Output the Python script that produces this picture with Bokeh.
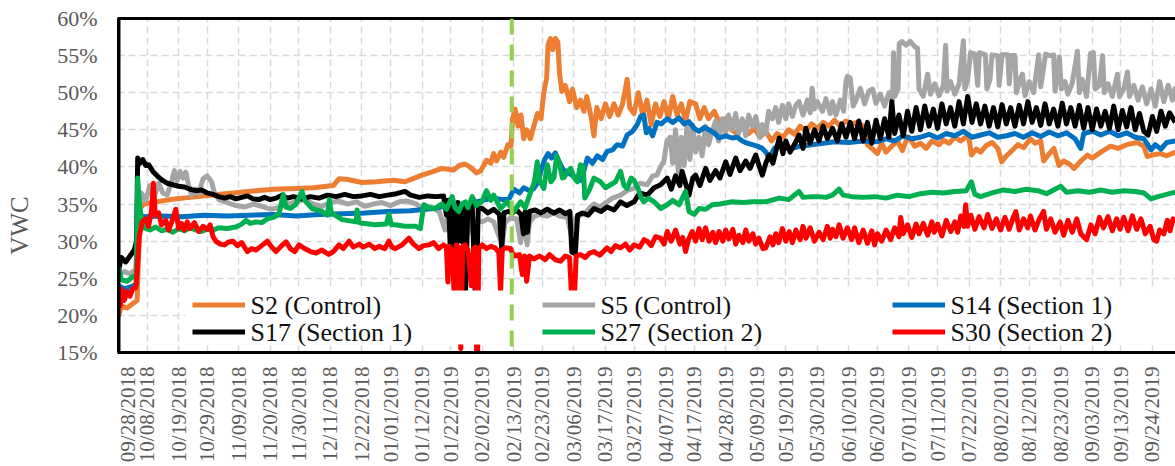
from datetime import datetime, timedelta
from math import pi

from bokeh.embed import file_html
from bokeh.layouts import column, row
from bokeh.models import (BoxAnnotation, ColumnDataSource, FixedTicker, Label, Legend, LegendItem,
                          LinearAxis, Range1d, Span)
from bokeh.plotting import figure
from bokeh.resources import INLINE

# Soil volumetric water content (VWC, %) per sensor.
# Each series is a list of (days since 09/28/2018, VWC %).
START = datetime(2018, 9, 28)
TREATMENT_DAY = 137.3  # vertical marker

tick_labels = [
    "09/28/2018", "10/08/2018", "10/19/2018", "10/29/2018", "11/09/2018", "11/20/2018",
    "11/30/2018", "12/11/2018", "12/22/2018", "01/01/2019", "01/12/2019", "01/22/2019",
    "02/02/2019", "02/13/2019", "02/23/2019", "03/06/2019", "03/17/2019", "03/27/2019",
    "04/07/2019", "04/17/2019", "04/28/2019", "05/09/2019", "05/19/2019", "05/30/2019",
    "06/10/2019", "06/20/2019", "07/01/2019", "07/11/2019", "07/22/2019", "08/02/2019",
    "08/12/2019", "08/23/2019", "09/03/2019", "09/13/2019", "09/24/2019",
]
y_ticks = [15, 20, 25, 30, 35, 40, 45, 50, 55, 60]

s2_control = [
    (0, 19.8), (1, 21.3), (3, 21.0), (5, 21.6), (6.5, 22.0), (7.5, 34.5), (9, 35.0), (12, 35.2),
    (18, 35.6), (25, 35.9), (32, 36.2), (40, 36.5), (48, 36.8), (54, 37.0), (62, 37.1), (68, 37.2),
    (75, 37.5), (77, 38.4), (80, 38.3), (85, 37.9), (90, 38.0), (96, 38.2), (100, 38.0), (106, 38.9),
    (110, 39.4), (113, 39.8), (117, 39.6), (119, 40.2), (121, 40.4), (123, 39.9), (125, 39.2),
    (126.5, 39.5), (128.5, 40.9), (130, 40.5), (131, 41.8), (132, 40.8), (133.5, 42.0), (134.5, 41.3),
    (136, 43.0), (137, 42.8), (137.6, 46.5), (138.5, 47.8), (139.5, 45.5), (140.5, 47.0),
    (141.5, 43.8), (142.5, 45.0), (143.8, 43.8), (145, 45.5), (146.3, 47.2), (147.5, 46.5),
    (148.5, 50.0), (149.5, 52.0), (150, 56.5), (150.8, 57.3), (151.6, 55.8), (152.5, 57.3),
    (153.4, 56.8), (154, 52.5), (154.8, 50.2), (156, 51.0), (157.5, 48.8), (158.5, 50.5), (160, 48.0),
    (161.3, 49.0), (162.5, 47.5), (163.5, 49.5), (165, 46.8), (166, 44.2), (167, 48.0), (168.5, 46.5),
    (170, 48.5), (171.5, 46.8), (173, 48.5), (174.5, 47.0), (176, 48.5), (177.6, 51.8), (178.5, 48.0),
    (180, 47.2), (181.5, 50.0), (183, 47.0), (184.5, 49.0), (186, 45.7), (187.5, 48.5), (189, 46.8),
    (190.5, 48.8), (192, 46.5), (193.5, 49.5), (195, 47.0), (196.5, 48.5), (198, 46.2), (199.5, 48.8),
    (201.5, 48.5), (203, 46.5), (204.5, 48.0), (206, 46.5), (208, 47.5), (210, 45.8), (212, 46.5),
    (214, 45.0), (216, 44.5), (218, 45.8), (220, 44.5), (222, 45.2), (224, 44.0), (226, 44.8),
    (228, 43.5), (230, 44.5), (232, 44.0), (234, 45.0), (236, 44.4), (238, 45.5), (240, 44.8),
    (242, 45.8), (244, 45.2), (246, 46.0), (248, 45.5), (250, 46.3), (252, 45.5), (254, 46.2),
    (256, 45.8), (258, 46.0), (260, 45.5), (261.5, 43.0), (263, 42.5), (265, 41.8), (266.5, 43.2),
    (268, 42.0), (270, 42.8), (272, 43.5), (273.7, 42.2), (275, 43.5), (276, 44.0), (278, 42.8),
    (280, 43.2), (282, 42.5), (284, 43.5), (286.5, 43.0), (288, 43.6), (290, 43.2), (292, 44.0),
    (294, 43.5), (296.8, 44.3), (297.8, 41.6), (299.5, 42.4), (301, 42.0), (303, 42.9), (305, 43.3),
    (307, 42.5), (308.4, 40.7), (310, 41.5), (312, 42.2), (314, 43.0), (316, 42.6), (318.4, 43.8),
    (320, 43.2), (322, 43.5), (323, 40.8), (325, 41.8), (326.6, 42.5), (328.4, 40.2), (330, 40.8),
    (332, 40.4), (333.6, 39.8), (336, 40.8), (338.3, 41.6), (340, 41.2), (343, 42.0), (346.4, 42.8),
    (349, 42.5), (352, 43.0), (355.7, 43.3), (358, 42.8), (359.2, 41.4), (361, 41.6), (363.8, 41.8),
    (366, 41.5), (369, 42.0),
]

s5_control = [
    (0, 25.5), (2, 25.9), (4, 25.6), (6, 26.2), (7, 33.5), (8, 36.5), (9.5, 35.5), (11, 37.5),
    (12.5, 36.0), (14, 37.8), (15.5, 36.5), (17, 36.2), (18.5, 38.0), (19.5, 39.5), (20.5, 38.2),
    (21.5, 39.4), (22.5, 38.5), (23.5, 39.3), (24.5, 37.5), (25.5, 36.2), (27, 37.0), (28, 36.4),
    (29.5, 38.4), (31, 38.8), (32.5, 38.0), (33.5, 36.5), (35, 35.6), (38, 35.2), (41, 34.8),
    (44, 34.6), (47, 35.0), (50, 34.7), (53, 34.3), (56, 34.5), (59, 35.0), (62, 35.3), (65, 35.6),
    (68, 35.0), (71, 34.7), (74, 35.2), (77, 35.4), (80, 35.0), (83, 35.3), (86, 34.7), (89, 35.0),
    (92, 35.2), (95, 34.8), (98, 35.3), (101, 35.4), (104, 35.0), (106, 34.4), (109, 34.6),
    (112, 34.0), (114, 31.5), (115, 33.8), (116, 31.2), (117, 33.5), (119, 33.3), (120.6, 33.0),
    (122, 31.0), (123, 33.0), (125, 32.8), (127, 32.6), (129, 33.0), (131, 32.6), (133, 30.5),
    (134, 29.7), (135, 32.5), (137, 33.2), (139, 33.0), (140.4, 29.8), (141.2, 33.0), (142.7, 29.5),
    (143.5, 32.5), (145, 33.3), (147, 33.6), (149.7, 33.4), (152, 33.8), (154, 33.4), (156.7, 33.2),
    (158, 31.0), (159.5, 33.0), (161.3, 33.5), (163, 33.8), (164.5, 34.5), (166, 35.0), (168, 34.6),
    (170.6, 35.3), (172.5, 35.8), (175.3, 36.2), (177.5, 36.8), (180, 37.1), (182, 37.8),
    (184.6, 37.6), (186.5, 38.8), (188, 38.9), (189.5, 40.2), (190.4, 40.7), (191.5, 43.5),
    (192.7, 44.0), (193.5, 40.5), (194.5, 45.0), (195.5, 38.8), (196.5, 44.0), (197.5, 40.2),
    (198.5, 45.5), (199.5, 41.0), (200.5, 45.7), (201.5, 42.0), (202.7, 44.0), (203.8, 41.5),
    (205, 45.5), (206, 43.0), (207.3, 44.8), (208.5, 46.2), (209.5, 43.5), (210.8, 46.5), (212, 44.5),
    (213, 47.0), (214.3, 45.0), (215.5, 47.2), (216.5, 44.5), (217.8, 46.5), (219, 44.2), (220, 47.0),
    (221.3, 45.5), (222.5, 46.8), (224, 44.0), (224.8, 45.7), (226, 44.5), (227, 47.5), (228.3, 46.5),
    (229.5, 48.0), (230.5, 46.0), (231.8, 48.3), (233, 46.5), (234, 48.5), (235.3, 46.8),
    (236.5, 48.3), (237.6, 48.8), (239, 47.0), (240.5, 49.0), (241.5, 47.3), (242.2, 50.6),
    (242.9, 47.8), (244, 48.8), (245.8, 47.5), (247, 49.2), (248.5, 47.2), (249.3, 48.8), (250.5, 47.0),
    (252, 49.0), (253.2, 47.5), (254, 51.5), (254.5, 52.2), (255.5, 52.0), (256.5, 48.2),
    (257.5, 49.0), (259, 50.6), (260.5, 48.5), (262, 50.2), (263.3, 50.5), (264.5, 48.6), (266, 49.8),
    (267.5, 48.2), (269, 50.0), (270.3, 49.0), (270.6, 55.4), (271, 49.5), (272.2, 50.5),
    (272.6, 56.6), (273.5, 56.9), (275, 56.4), (276.5, 56.9), (278, 56.2), (279, 56.0), (279.5, 50.5),
    (281, 49.5), (282.5, 52.5), (283.5, 49.8), (285, 51.2), (286.5, 49.6), (288, 51.0), (288.8, 56.4),
    (289.3, 50.2), (290.5, 51.5), (292, 49.8), (293.5, 51.2), (295, 57.0), (295.5, 50.5),
    (296.5, 51.8), (297.5, 55.4), (299, 55.2), (300, 51.0), (300.6, 55.4), (302.7, 55.1),
    (303.2, 50.5), (304.3, 51.8), (305, 55.1), (307, 55.0), (307.5, 51.0), (308.5, 55.1),
    (310.5, 55.1), (311, 51.2), (311.8, 55.0), (313, 55.0), (313.5, 50.0), (315, 52.0), (315.6, 52.5),
    (316.5, 49.6), (318, 51.5), (319.5, 50.0), (321.3, 55.1), (322, 50.8), (323.7, 55.2), (325, 55.0),
    (326.5, 55.1), (327, 50.2), (328.5, 54.8), (329.2, 50.5), (330.5, 51.5), (331.5, 49.8),
    (333, 51.3), (334.8, 55.6), (335.5, 50.0), (336.5, 51.8), (338, 49.5), (339.4, 55.3),
    (340.4, 55.4), (341, 50.5), (342.5, 51.0), (343.6, 55.0), (344.2, 50.0), (345.5, 51.2),
    (347, 49.5), (348.8, 52.5), (349.5, 49.5), (351, 50.5), (352.3, 52.8), (353, 49.5), (354.5, 51.0),
    (356, 49.0), (357.5, 50.8), (359, 48.5), (360.5, 50.5), (362, 48.2), (363.5, 51.5), (365, 48.8),
    (366.5, 51.0), (368, 49.0), (369, 50.8),
]

s14_section1 = [
    (0, 24.0), (2, 23.6), (4, 23.8), (6.3, 24.2), (7, 33.5), (9, 33.3), (15, 33.4), (22, 33.3),
    (30, 33.5), (38, 33.4), (46, 33.5), (54, 33.6), (62, 33.4), (70, 33.6), (78, 33.7), (86, 33.8),
    (94, 34.0), (102, 34.1), (110, 34.4), (116, 34.9), (122, 35.0), (127, 35.5), (131, 35.8),
    (134.3, 35.6), (136.5, 35.8), (138, 37.0), (140, 36.5), (141.5, 37.2), (143.5, 36.8), (145, 37.1),
    (146.5, 38.0), (147.5, 39.5), (148.8, 41.0), (150, 41.8), (151.2, 41.2), (152.5, 41.9),
    (153.5, 41.0), (155, 39.8), (156.5, 39.2), (158, 39.0), (159.5, 38.6), (161.3, 38.2),
    (162.5, 39.5), (163.7, 41.2), (165.5, 40.5), (167.2, 41.5), (169, 41.0), (170.6, 42.1),
    (172.5, 42.3), (174.1, 43.0), (176, 42.8), (177.6, 44.3), (179.5, 44.8), (181.1, 45.7),
    (182.3, 46.8), (183.4, 47.0), (184.3, 44.6), (185.2, 45.2), (186.5, 44.2), (188, 46.0),
    (189.5, 45.8), (191.6, 46.5), (193.5, 46.0), (195.7, 46.6), (197.5, 45.8), (199.2, 46.1),
    (201, 45.2), (202.7, 44.8), (204.5, 45.3), (206.2, 45.0), (208, 44.6), (209.7, 43.9), (212, 44.2),
    (214.3, 43.9), (216, 44.0), (217.8, 43.5), (219.5, 43.2), (221.3, 43.0), (223, 42.8),
    (224.8, 42.5), (226, 42.0), (227.2, 41.2), (229, 42.5), (230.7, 43.0), (233, 42.6), (235.3, 42.5),
    (238, 42.8), (242, 43.0), (246, 43.2), (250, 43.4), (255, 43.3), (260, 43.5), (265, 43.4),
    (268, 43.8), (271, 43.5), (274, 44.2), (277, 43.8), (280, 44.0), (283, 44.4), (286, 43.9),
    (289, 44.5), (292, 44.2), (295, 44.8), (298, 44.0), (301, 44.3), (304, 44.6), (307, 44.0),
    (310, 44.2), (313, 44.5), (316, 44.0), (319, 44.6), (322, 44.1), (325, 44.7), (328, 44.2),
    (331, 44.6), (334, 43.8), (336, 42.5), (337, 44.5), (340, 44.8), (343, 44.3), (346, 44.8),
    (349, 44.2), (352, 44.6), (355, 44.0), (358, 43.8), (360.5, 42.3), (362, 43.0), (364, 42.4),
    (366, 43.3), (369, 43.5),
]

s17_section1 = [
    (0, 26.0), (1, 27.8), (2.5, 27.2), (4, 28.0), (5.5, 28.8), (6.3, 30.0), (6.7, 41.2), (7.5, 40.5),
    (8.5, 41.0), (9.5, 40.2), (10.5, 40.3), (12, 39.4), (13.5, 38.8), (15, 38.3), (17, 37.8),
    (19, 37.6), (21, 37.4), (23, 37.3), (25, 37.0), (27, 36.8), (29, 36.9), (31, 36.5), (33, 36.3),
    (35, 36.0), (37, 35.8), (39, 36.0), (41, 35.7), (43, 35.9), (45, 36.1), (47, 35.7), (49, 35.6),
    (51, 35.9), (53, 35.6), (55, 35.8), (57, 36.2), (59, 35.8), (61, 36.0), (64, 35.7), (67, 36.0),
    (70, 35.8), (73, 36.2), (76, 36.0), (79, 36.3), (82, 36.0), (85, 36.1), (88, 36.3), (91, 36.0),
    (94, 36.2), (97, 36.4), (100, 36.7), (102, 36.2), (105, 35.9), (108, 36.1), (111, 36.0),
    (113.5, 36.1), (114.5, 33.5), (115.2, 35.5), (115.8, 29.5), (116.5, 35.0), (117.5, 24.0),
    (118.5, 35.2), (119.5, 30.0), (120.2, 35.0), (121.2, 23.5), (122, 35.0), (123.5, 34.8),
    (124.8, 20.0), (125.6, 34.5), (127, 34.4), (129, 33.8), (131, 34.3), (133, 33.6), (133.8, 29.0),
    (134.6, 33.8), (136, 34.0), (137.5, 33.8), (139, 34.2), (140.5, 33.6), (141.4, 31.0), (142, 34.0),
    (142.8, 31.2), (143.5, 34.0), (145.5, 34.2), (147.5, 33.8), (149.7, 34.3), (152, 33.8),
    (154, 34.2), (156, 33.7), (157.6, 34.0), (158.3, 28.5), (159.5, 28.3), (160.3, 33.5), (162, 33.8),
    (164, 33.5), (166, 34.4), (168.5, 34.0), (170.6, 34.6), (173, 34.2), (175.3, 35.3), (177.5, 34.8),
    (180, 35.3), (182, 36.5), (184.6, 36.2), (187, 37.2), (189.3, 37.6), (191.6, 38.5), (193, 37.0),
    (194.5, 38.8), (196, 37.5), (196.8, 39.4), (198, 37.8), (199.2, 36.2), (200.5, 38.5),
    (201.5, 38.9), (203, 37.5), (205, 39.8), (206.5, 38.2), (208.5, 39.5), (210, 38.5), (212, 40.7),
    (213.5, 39.0), (215.5, 41.2), (217, 39.5), (219, 40.8), (220.5, 39.8), (222.5, 41.6),
    (223.8, 40.0), (224.8, 38.9), (226, 40.5), (227.2, 41.6), (228.5, 40.5), (230.7, 43.9),
    (232, 41.8), (233, 43.5), (234.5, 42.0), (236.5, 43.4), (237.6, 44.3), (239, 42.5), (240, 45.2),
    (241.5, 43.2), (243, 45.0), (244.6, 43.5), (246, 45.5), (247.5, 43.8), (249.3, 45.2), (251, 43.5),
    (252.5, 45.8), (254, 44.0), (255.5, 46.0), (257, 43.8), (258.5, 46.2), (260, 43.5), (261.5, 46.0),
    (263, 43.2), (264.5, 46.3), (266, 43.8), (267.5, 46.5), (269, 44.0), (270, 48.8), (271, 44.5),
    (272.5, 47.0), (274, 44.2), (275.5, 47.5), (277, 44.8), (278.5, 48.0), (280, 45.0), (281.5, 48.2),
    (283, 45.5), (284.5, 47.8), (286, 45.2), (287.5, 48.5), (289, 45.8), (290.5, 48.0), (292, 45.5),
    (293.5, 48.8), (295, 45.8), (296.5, 49.5), (298, 46.0), (299.5, 48.5), (301, 45.8), (302.5, 48.2),
    (304, 45.5), (305.5, 48.0), (307, 45.4), (308.5, 48.4), (310, 45.8), (311.5, 48.0), (313, 45.5),
    (314.5, 48.3), (316, 45.8), (317.5, 48.8), (319, 46.0), (320.5, 48.0), (322, 45.6), (323.5, 48.5),
    (325, 45.8), (326.5, 47.8), (328, 45.5), (329.5, 48.6), (331, 45.8), (332.5, 48.0), (334, 45.5),
    (335.5, 48.3), (337, 45.2), (338.5, 48.0), (340, 45.0), (341.5, 47.8), (343, 45.5), (344.5, 47.5),
    (346, 45.2), (347.5, 48.2), (349, 45.0), (350.5, 47.6), (352, 45.4), (353.5, 48.0), (355, 45.0),
    (356.5, 47.2), (358, 44.8), (359.5, 44.3), (361, 46.8), (362.5, 44.8), (364, 47.5), (365.5, 45.5),
    (367, 47.3), (369, 46.0),
]

s27_section2 = [
    (0, 26.5), (1, 24.8), (3, 24.6), (5, 25.2), (6.2, 25.5), (6.7, 38.5), (7.3, 35.0), (8, 33.0),
    (9, 31.8), (11, 31.5), (13, 31.9), (15, 31.4), (17, 31.6), (19, 31.2), (21, 31.7), (23, 31.4),
    (25, 31.8), (27, 31.5), (29, 31.3), (31, 31.6), (33, 31.5), (35, 31.8), (38, 31.7), (41, 31.9),
    (43, 32.3), (44.5, 32.8), (46, 32.4), (48, 32.6), (50, 32.5), (52, 33.0), (54, 33.2), (56, 33.6),
    (57.5, 36.3), (58.5, 34.6), (60, 34.4), (61.8, 34.9), (64.1, 36.7), (65, 35.5), (67.6, 34.4),
    (71.1, 34.0), (73, 33.5), (73.6, 35.6), (74.3, 33.8), (78.1, 32.9), (83, 32.6), (83.3, 34.2),
    (84, 32.5), (85.1, 32.4), (89.7, 32.2), (93.5, 32.3), (94.4, 33.6), (95.3, 32.2), (96.7, 32.2),
    (100, 32.0), (103.7, 32.0), (105.4, 31.7), (106.6, 34.9), (108.5, 34.5), (110.7, 34.4),
    (112, 34.8), (113, 35.0), (114.5, 34.3), (116.5, 36.0), (117.5, 34.5), (118.8, 34.0), (120, 35.0),
    (121.1, 35.3), (122, 34.5), (123.5, 36.0), (125, 34.8), (127, 35.4), (128.5, 36.8), (130, 35.5),
    (131, 36.2), (133.4, 34.4), (135.7, 35.3), (138, 34.0), (140.4, 35.3), (142, 34.5), (143.9, 36.6),
    (145.2, 38.0), (146.2, 40.7), (147, 38.2), (148.5, 37.1), (149.7, 40.3), (151, 38.0), (152, 38.5),
    (153, 41.5), (153.8, 40.7), (155, 38.5), (155.6, 38.6), (157, 39.5), (157.9, 39.8), (159, 38.6),
    (160.2, 38.0), (161.3, 40.3), (162.3, 40.0), (162.8, 35.8), (164.5, 37.0), (166, 38.5),
    (168.3, 38.0), (170, 37.2), (171.8, 37.6), (173.5, 38.0), (175.3, 39.4), (176.5, 37.5),
    (177.6, 37.1), (179, 38.5), (180, 38.2), (181.5, 37.0), (182.3, 36.0), (183.4, 35.3), (185, 35.8),
    (187, 35.3), (189.3, 34.4), (191.6, 34.9), (193.5, 35.5), (195.7, 34.9), (198, 36.7),
    (199.2, 34.0), (201, 33.6), (202.7, 34.4), (205, 34.3), (207.3, 34.9), (210, 35.0), (214.3, 35.3),
    (218, 35.2), (221.3, 35.3), (226, 35.3), (230.7, 35.8), (234, 35.6), (237.6, 36.7), (239, 35.9),
    (242, 36.0), (244.6, 36.0), (247, 35.9), (249.3, 36.2), (251.6, 37.0), (253, 36.2), (256, 36.0),
    (260, 35.9), (264, 36.0), (268, 35.8), (272, 36.2), (276, 36.0), (280, 36.4), (284, 36.6),
    (288, 36.5), (292, 36.7), (296, 36.8), (297.8, 38.0), (299, 36.3), (301, 36.0), (305, 36.5),
    (309, 36.9), (313, 36.7), (317, 37.0), (321, 36.8), (324, 36.4), (329, 37.4), (331, 36.6),
    (335, 36.8), (339, 36.6), (343, 36.9), (347, 36.6), (351, 36.8), (355, 36.7), (358, 36.5),
    (360.5, 35.7), (363, 36.0), (366, 36.3), (369, 36.6),
]

s30_section2 = [
    (0, 22.8), (0.6, 21.3), (1.2, 23.5), (2, 22.0), (3, 23.2), (4, 22.6), (5, 23.6), (6, 23.7),
    (6.5, 26.0), (7.3, 30.7), (8.3, 32.6), (9.5, 33.0), (10.5, 32.0), (11.5, 34.0), (12.2, 37.8),
    (12.8, 33.5), (14, 33.8), (15, 32.2), (16.5, 32.8), (17.5, 31.5), (18.5, 32.5), (20, 34.3),
    (21, 31.7), (22, 32.4), (23, 31.5), (24, 32.6), (25, 31.7), (26.5, 32.5), (28, 31.3), (29.5, 32.0),
    (31, 31.6), (32, 32.2), (33, 30.6), (34, 30.0), (35.5, 29.6), (37, 29.5), (38.5, 29.9), (40, 30.0),
    (41.5, 29.4), (43, 29.8), (45, 28.6), (46.5, 29.0), (48, 28.8), (50, 29.4), (52, 30.0),
    (53.5, 29.2), (55, 28.6), (57, 29.4), (58.5, 29.9), (60, 29.0), (61.5, 28.6), (63, 29.5),
    (65, 29.0), (67, 28.6), (69, 28.4), (71, 28.8), (73.4, 28.2), (75, 28.6), (77, 29.5), (78.5, 29.0),
    (80.5, 30.0), (82, 29.2), (84, 29.6), (85.5, 29.2), (87.5, 29.6), (89.5, 29.0), (91, 29.3),
    (93, 29.0), (94.4, 30.0), (95.5, 29.2), (96.7, 29.0), (99, 29.5), (101.4, 30.4), (103, 29.6),
    (104.9, 29.0), (106.5, 29.4), (108.4, 29.5), (110, 29.8), (111.8, 29.0), (113.5, 29.5),
    (114.5, 29.2), (115, 24.5), (115.5, 29.3), (116.5, 28.8), (117.3, 22.0), (118, 29.5),
    (119, 29.0), (119.5, 15.5), (120.2, 29.3), (121, 29.5), (122, 28.8), (123.2, 24.0), (124, 29.0),
    (124.6, 29.2), (125.2, 9.0), (125.8, 29.0), (127, 29.5), (128.5, 29.0), (130, 29.3),
    (131.5, 29.1), (132.8, 28.5), (133.4, 23.2), (134, 28.8), (135, 29.1), (136.9, 29.0),
    (137.5, 28.4), (138.5, 28.0), (140, 28.2), (141, 25.5), (141.8, 28.0), (142.5, 24.6),
    (143.5, 28.0), (145, 27.6), (147, 28.0), (149, 27.5), (150.5, 28.2), (152.5, 27.5), (154.4, 27.3),
    (156, 28.0), (157.5, 27.8), (158.2, 22.5), (159.2, 22.5), (159.8, 28.0), (161.3, 28.2),
    (163, 27.8), (164.5, 28.4), (166, 28.6), (168, 28.1), (170.6, 29.1), (172, 28.6), (173.5, 29.4),
    (175.3, 29.1), (177, 29.6), (178.5, 28.8), (180, 29.5), (182, 29.2), (183.5, 30.2), (184.6, 30.0),
    (186, 29.4), (187.5, 30.6), (189.3, 30.4), (190.5, 29.6), (191.6, 31.3), (193, 30.0),
    (194.5, 31.5), (196, 29.6), (197, 30.5), (198, 28.6), (199, 30.2), (200.3, 31.3), (201.5, 30.0),
    (202.7, 31.7), (203.8, 30.2), (205, 31.8), (206.2, 30.0), (207.5, 31.2), (208.5, 29.8),
    (209.7, 31.3), (211, 30.0), (212, 31.5), (213.1, 30.3), (214.5, 31.6), (215.5, 29.6),
    (216.6, 30.8), (218, 29.8), (219, 31.5), (220.1, 30.0), (221.5, 31.0), (222.5, 29.6),
    (223.6, 30.4), (225, 29.0), (226, 29.1), (227.5, 30.6), (228.5, 29.5), (229.5, 31.0),
    (230.5, 29.8), (231.8, 31.7), (233, 30.0), (234.2, 31.3), (235.3, 29.8), (236.5, 31.5),
    (238, 30.2), (239, 32.0), (240, 30.4), (241.5, 31.8), (243, 30.0), (244.6, 31.2), (246, 30.2),
    (247.5, 32.0), (248.5, 30.4), (249.3, 31.6), (250.5, 30.6), (251.6, 32.2), (253, 30.4),
    (254.5, 31.8), (256, 30.2), (257, 31.8), (258.5, 29.8), (260, 31.5), (261.5, 29.7), (263, 31.4),
    (264, 29.5), (265, 31.0), (266.5, 30.0), (268, 31.5), (269.6, 30.2), (271, 31.8), (272.5, 30.6),
    (273.1, 33.2), (274, 31.0), (275.5, 32.2), (277, 30.5), (278.5, 32.3), (279.5, 31.0), (281, 32.4),
    (282.5, 30.8), (284, 32.6), (284.8, 31.2), (286, 32.3), (287.5, 30.7), (289, 32.8), (290.6, 31.3),
    (292, 32.6), (293, 31.2), (294.1, 33.4), (295.2, 32.0), (295.8, 34.9), (296.5, 32.0),
    (297.6, 33.5), (299, 31.6), (300.5, 33.3), (302.2, 31.8), (303.5, 33.6), (305, 31.7),
    (306.5, 33.0), (308, 31.5), (309.5, 33.2), (311, 31.6), (312.5, 33.3), (313.3, 34.0),
    (314.5, 31.5), (316, 33.0), (317.5, 31.8), (318.4, 33.4), (320, 31.5), (321.5, 33.0), (323, 34.0),
    (324, 31.6), (325.5, 33.0), (327, 31.2), (328.8, 32.6), (330, 30.8), (331.5, 32.8), (333, 31.2),
    (334.6, 33.0), (336, 31.0), (337.2, 30.5), (338, 30.2), (339.5, 32.2), (341, 31.0), (342.5, 33.2),
    (343.9, 31.8), (345.5, 33.3), (347, 31.4), (348.5, 33.0), (349.7, 31.6), (351, 33.2),
    (352.5, 31.4), (354, 33.4), (355.5, 31.6), (357, 33.0), (358.5, 31.0), (360.2, 32.0),
    (361.5, 30.2), (362.5, 30.0), (363.5, 31.5), (365, 31.0), (366.2, 32.8), (367.2, 31.4),
    (368.2, 33.0), (369, 32.5),
]

series = [
    ("S2 (Control)", s2_control, "#ED7D31"),
    ("S5 (Control)", s5_control, "#A5A5A5"),
    ("S14 (Section 1)", s14_section1, "#0070C0"),
    ("S17 (Section 1)", s17_section1, "#000000"),
    ("S27 (Section 2)", s27_section2, "#00B050"),
    ("S30 (Section 2)", s30_section2, "#FF0000"),
]

EPOCH = datetime(1970, 1, 1)
FONT = "Liberation Serif"
TICK_COLOR = "#595959"

# plot-area geometry (pixels) and the visible data window
LEFT_W, PLOT_W = 117, 1058
TOP, PLOT_H, BOTTOM_H = 18, 334, 112
X0, X1 = -0.35, 369.06          # days
Y0, Y1 = 15, 60                 # VWC %
PX_PER_PCT = PLOT_H / (Y1 - Y0)


def day_to_dt(d):
    return START + timedelta(days=d)


def to_ms(dt):
    return (dt - EPOCH).total_seconds() * 1000.0


tick_ms = [to_ms(datetime.strptime(t, "%m/%d/%Y")) for t in tick_labels]

# ---------------- main plot ----------------
main = figure(
    width=PLOT_W, height=TOP + PLOT_H + 2, x_axis_type="datetime",
    x_range=Range1d(day_to_dt(X0), day_to_dt(X1)), y_range=Range1d(Y0, Y1),
    output_backend="svg", toolbar_location=None,
    min_border_left=0, min_border_right=0, min_border_top=TOP, min_border_bottom=2,
)
main.outline_line_color = None
main.background_fill_color = "white"
main.border_fill_color = "white"

for ax in (main.xaxis[0], main.yaxis[0]):
    ax.ticker = FixedTicker(ticks=[])
    ax.axis_line_color = "black"
    ax.major_tick_out = 0
    ax.major_tick_in = 0
    ax.minor_tick_out = 0
    ax.minor_tick_in = 0
    ax.major_label_standoff = 0
main.xaxis[0].axis_line_width = 3
main.yaxis[0].axis_line_width = 6   # half of it lies at the canvas edge

top = LinearAxis(ticker=FixedTicker(ticks=[]), axis_line_width=3, axis_line_color="black",
                 major_tick_out=0, major_tick_in=0, minor_tick_out=0, minor_tick_in=0,
                 major_label_standoff=0)
main.add_layout(top, "above")

main.xgrid[0].ticker = FixedTicker(ticks=tick_ms)
main.ygrid[0].ticker = FixedTicker(ticks=y_ticks)
for g in (main.xgrid[0], main.ygrid[0]):
    g.grid_line_color = "#D9D9D9"
    g.grid_line_width = 1.5
    g.grid_line_dash = "7 4"

renderers = []
for name, pts, color in series:
    src = ColumnDataSource(dict(x=[day_to_dt(d) for d, _ in pts], y=[v for _, v in pts]))
    r = main.line("x", "y", source=src, line_color=color, line_width=5, line_join="round")
    renderers.append(r)

# legend: white panel, names as text labels, line samples from transparent legends
main.add_layout(BoxAnnotation(left=68, right=PLOT_W + 10, bottom=8, top=62,
                              left_units="screen", right_units="screen",
                              bottom_units="screen", top_units="screen",
                              fill_color="white", fill_alpha=1.0, line_color=None))
ROW_Y = [47.5, 20.5]
for col, lx in zip([[0, 3], [1, 4], [2, 5]], [75, 425, 775]):
    for i, ry in zip(col, ROW_Y):
        main.add_layout(Label(x=lx + 58, y=ry, x_units="screen", y_units="screen",
                              text=series[i][0], text_align="left", text_baseline="middle",
                              text_font=FONT, text_font_size="26px", text_color="#111111"))
for col, lx in zip([[0, 3], [1, 4], [2, 5]], [75, 425, 775]):
    main.add_layout(Legend(
        items=[LegendItem(label=" ", renderers=[renderers[i]]) for i in col],
        location=(lx, 7), orientation="vertical", padding=0, spacing=0, margin=0,
        glyph_width=53, glyph_height=27, label_height=27, label_width=40, label_standoff=5,
        label_text_font_size="10px",
        background_fill_alpha=0.0, border_line_color=None,
    ))

main.add_layout(Span(location=to_ms(day_to_dt(TREATMENT_DAY)), dimension="height",
                     line_color="#92D050", line_width=4, line_dash="16 10", level="overlay"))

# ---------------- y tick labels and axis title ----------------
left = figure(
    width=LEFT_W, height=TOP + PLOT_H + BOTTOM_H,
    x_range=Range1d(0, LEFT_W),
    y_range=Range1d(Y0 - BOTTOM_H / PX_PER_PCT, Y1 + TOP / PX_PER_PCT),
    x_axis_location=None, y_axis_location=None, output_backend="svg", toolbar_location=None,
    min_border=0, outline_line_color=None,
)
left.grid.visible = False
for v in y_ticks:
    left.add_layout(Label(x=97, y=v, x_units="screen", y_units="data", text=f"{v}%",
                          text_align="right", text_baseline="middle", text_font=FONT,
                          text_font_size="22px", text_color=TICK_COLOR))
left.add_layout(Label(x=18.5, y=239, x_units="screen", y_units="screen", text="VWC",
                      angle=pi / 2, text_align="center", text_baseline="middle",
                      text_font=FONT, text_font_size="25px", text_color=TICK_COLOR))

# ---------------- x tick labels (shares the main time axis) ----------------
bottom = figure(
    width=PLOT_W, height=BOTTOM_H, x_range=main.x_range, y_range=Range1d(0, BOTTOM_H),
    x_axis_location=None, y_axis_location=None, output_backend="svg", toolbar_location=None,
    min_border=0, outline_line_color=None,
)
bottom.grid.visible = False
for k, (t, lbl) in enumerate(zip(tick_ms, tick_labels)):
    # the first date sits on the canvas edge; nudge it inward so it stays whole
    bottom.add_layout(Label(x=t, y=BOTTOM_H - 12, x_units="data", y_units="screen", text=lbl,
                            x_offset=9 if k == 0 else 0, angle=pi / 2, text_align="right",
                            text_baseline="middle", text_font=FONT, text_font_size="21px",
                            text_color=TICK_COLOR))

layout = row(left, column(main, bottom))
open("out.html", "w").write(file_html(layout, INLINE))
